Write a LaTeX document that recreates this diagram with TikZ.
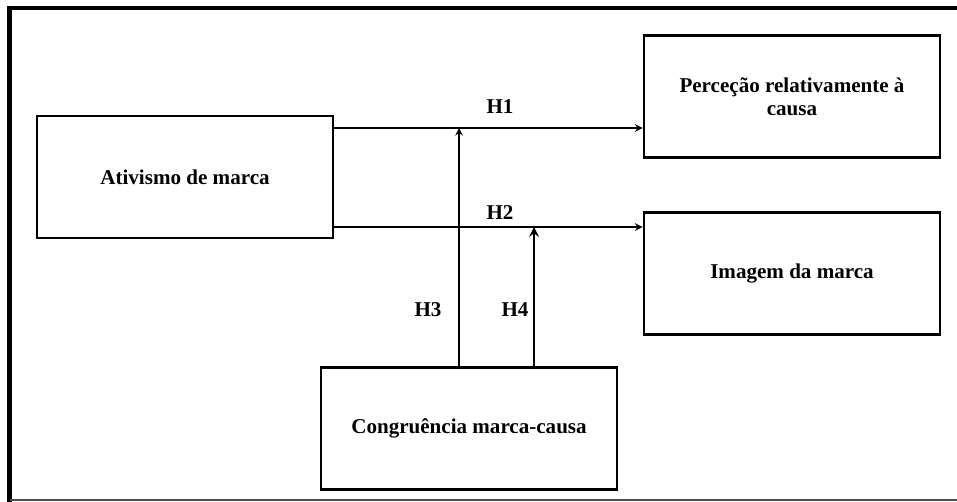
\documentclass[tikz,border=0pt]{standalone}
\usepackage{fontspec}
\setmainfont{Liberation Serif}
\usepackage{tikz}
\usetikzlibrary{arrows,positioning,calc}
\tikzstyle{block} = [rectangle, minimum width=296*0.75pt, minimum height=122*0.75pt,
    align=center, draw=black, line width=2.2pt,
    font=\fontsize{15.8}{17.5}\selectfont\bfseries]
\tikzstyle{arrow} = [line width=1.5pt,->,>=stealth]
\tikzstyle{hlabel} = [font=\fontsize{15.8}{18}\selectfont\bfseries, inner sep=0pt]

\begin{document}
\begin{tikzpicture}[x=0.75pt,y=-0.75pt]
\useasboundingbox (0,0) rectangle (957,502);
% Frame
\draw[line width=3.5pt] (9.5,502) -- (9.5,8) -- (957,8);
\draw[line width=1pt, black!70] (9.5,500) -- (957,500);
% Boxes
\node[block] (ativ) at (185,177) {Ativismo de marca};
\node[block] (perc) at (792,96.5) {Perceção relativamente à\\causa};
\node[block] (imag) at (792,273.5) {Imagem da marca};
\node[block] (cong) at (469,428.5) {Congruência marca-causa};
% Points on the paths
\coordinate (h1) at (0,128);
\coordinate (h2) at (0,227);
\coordinate (m3) at (459,128);
\coordinate (m4) at (534,227);
% Arrows
\draw[arrow] (ativ.east |- h1) -- (perc.west |- h1);
\draw[arrow] (ativ.east |- h2) -- (imag.west |- h2);
\draw[arrow] (cong.north -| m3) -- (m3);
\draw[arrow, line width=2.2pt] (cong.north -| m4) -- (m4);
% Labels
\node[hlabel] (l1) at (500,107) {H1};
\node[hlabel] (l2) at (500,213) {H2};
\node[hlabel] (l3) at (428,310) {H3};
\node[hlabel] (l4) at (515,310) {H4};
\end{tikzpicture}
\end{document}
